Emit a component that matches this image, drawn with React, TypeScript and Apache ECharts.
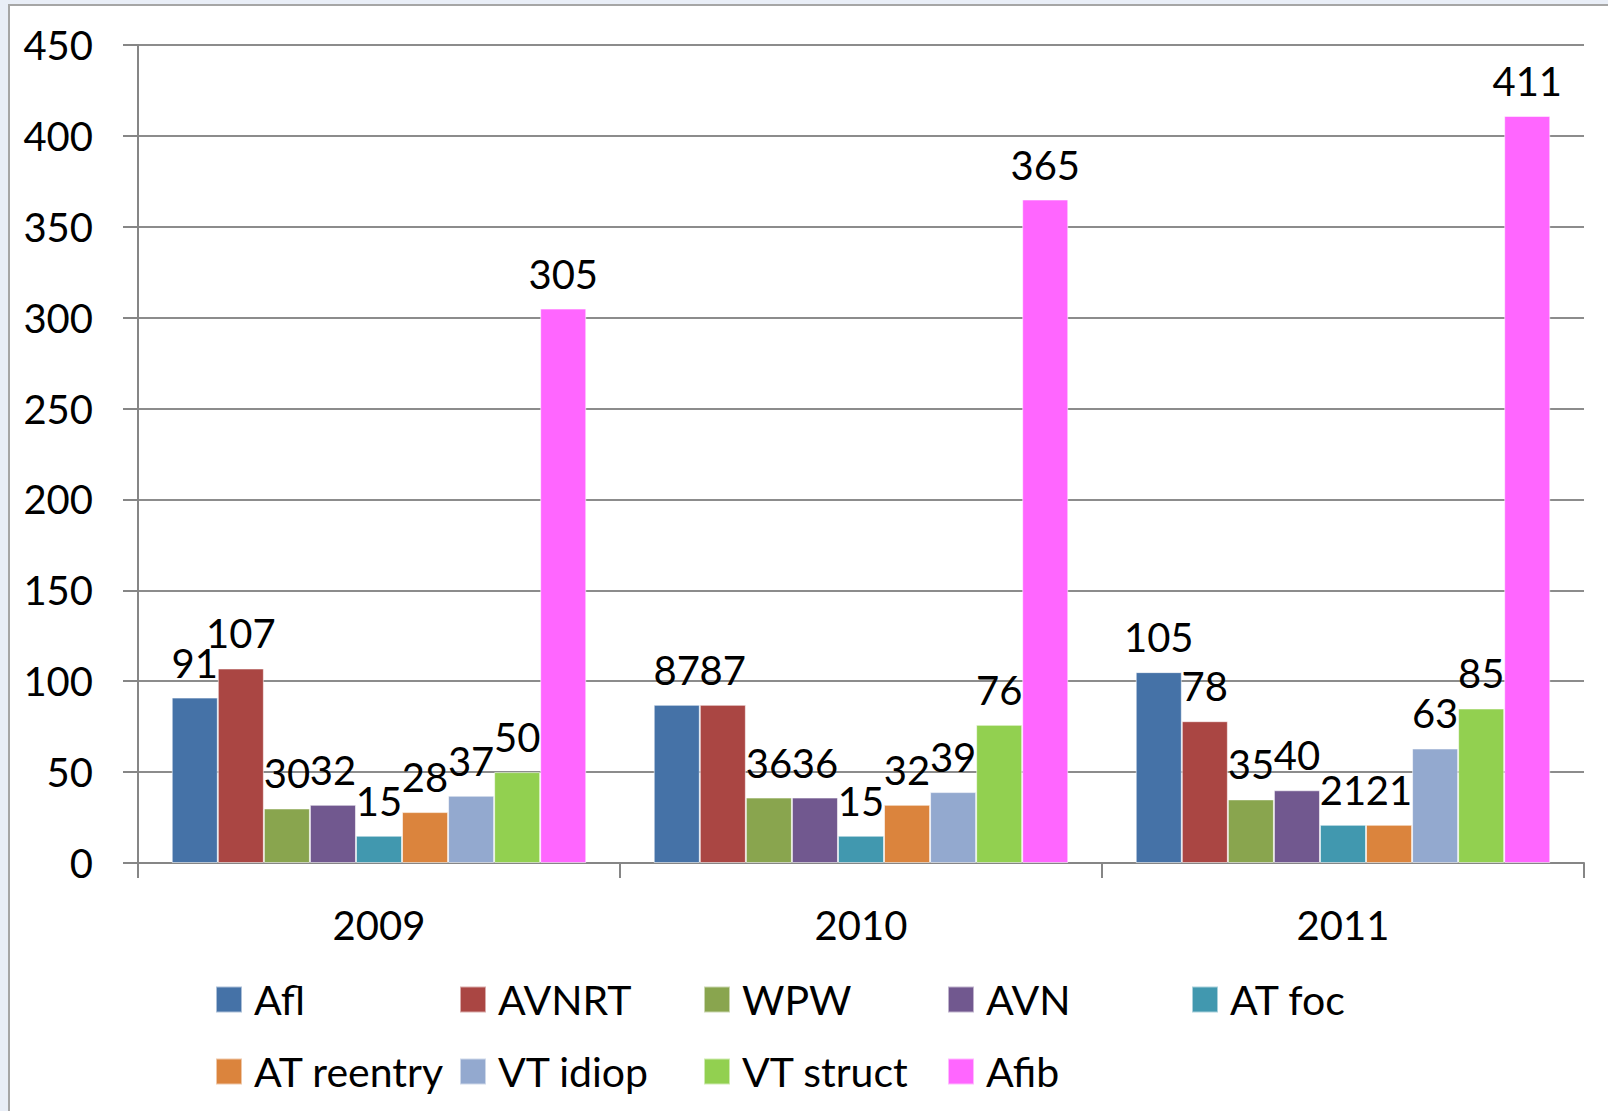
import React, { useEffect, useRef } from 'react';
import * as echarts from 'echarts';

const categories = ['2009', '2010', '2011'];
const seriesNames = ['Afl', 'AVNRT', 'WPW', 'AVN', 'AT foc', 'AT reentry', 'VT idiop', 'VT struct', 'Afib'];
const afl = [91, 87, 105];
const avnrt = [107, 87, 78];
const wpw = [30, 36, 35];
const avn = [32, 36, 40];
const atFoc = [15, 15, 21];
const atReentry = [28, 32, 21];
const vtIdiop = [37, 39, 63];
const vtStruct = [50, 76, 85];
const afib = [305, 365, 411];
const seriesValues = [afl, avnrt, wpw, avn, atFoc, atReentry, vtIdiop, vtStruct, afib];
const colors = ['#4572A7', '#AA4643', '#89A54E', '#71588F', '#4198AF', '#DB843D', '#93A9CF', '#92D050', '#FF66FF'];
const yTicks = { min: 0, max: 450, interval: 50 };

const FONT = 'Lato';

export default function App() {
  const ref = useRef<HTMLDivElement>(null);
  useEffect(() => {
    const chart = echarts.init(ref.current!, null, { renderer: 'svg' });
    const legends = seriesNames.map((name, i) => {
      const col = i % 5;
      const row = Math.floor(i / 5);
      return {
        show: true,
        data: [name],
        left: 215 + col * 244,
        top: row === 0 ? 979 : 1051,
        padding: 0,
        itemWidth: 26,
        itemHeight: 26,
        icon: 'rect',
        selectedMode: false,
        textStyle: {
          fontFamily: FONT,
          fontSize: 41,
          color: '#000',
          lineHeight: 26,
          padding: [0, 0, 0, 7],
        },
      };
    });
    const option: any = {
      animation: false,
      backgroundColor: '#E9EEF7',
      graphic: [
        {
          type: 'rect',
          z: -100,
          silent: true,
          shape: { x: 9, y: 5, width: 1700, height: 1200 },
          style: { fill: '#FFFFFF', stroke: '#A6A6A6', lineWidth: 2 },
        },
      ],
      grid: { left: 138, right: 24, top: 45, bottom: 248, containLabel: false },
      legend: legends,
      xAxis: {
        type: 'category',
        data: categories,
        axisLine: { show: true, lineStyle: { color: '#868686', width: 2 } },
        axisTick: { show: true, length: 15, lineStyle: { color: '#868686', width: 2 } },
        axisLabel: { fontFamily: FONT, fontSize: 40, color: '#000', margin: 42 },
      },
      yAxis: {
        type: 'value',
        min: yTicks.min,
        max: yTicks.max,
        interval: yTicks.interval,
        axisLine: { show: true, lineStyle: { color: '#868686', width: 2 } },
        axisTick: { show: true, length: 15, lineStyle: { color: '#868686', width: 2 } },
        splitLine: { show: true, lineStyle: { color: '#8C8C8C', width: 2 } },
        axisLabel: { fontFamily: FONT, fontSize: 40, color: '#000', margin: 45 },
      },
      series: seriesNames.map((name, i) => ({
        name,
        type: 'bar',
        data: seriesValues[i],
        barGap: '0%',
        barCategoryGap: '14%',
        itemStyle: { color: colors[i], borderColor: 'rgba(255,255,255,0.55)', borderWidth: 1 },
        label: {
          show: true,
          position: 'top',
          distance: 15,
          fontFamily: FONT,
          fontSize: 40,
          color: '#000',
        },
      })),
    };
    chart.setOption(option);
    return () => chart.dispose();
  }, []);
  return <div ref={ref} style={{ position: 'absolute', left: 0, top: 0, width: 1608, height: 1111 }} />;
}
